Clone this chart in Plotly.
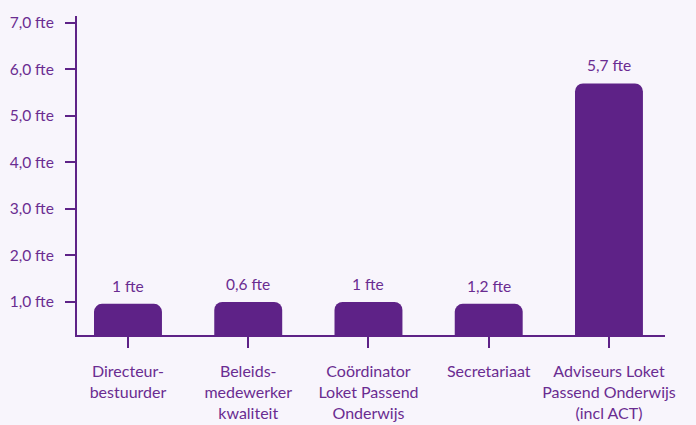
import plotly.graph_objects as go

categories = [
    "Directeur-<br>bestuurder",
    "Beleids-<br>medewerker<br>kwaliteit",
    "Coördinator<br>Loket Passend<br>Onderwijs",
    "Secretariaat",
    "Adviseurs Loket<br>Passend Onderwijs<br>(incl ACT)",
]
bar_heights = [0.96, 1.0, 1.0, 0.96, 5.7]
bar_labels = ["1 fte", "0,6 fte", "1 fte", "1,2 fte", "5,7 fte"]
y_tick_values = [1, 2, 3, 4, 5, 6, 7]
y_tick_labels = ["1,0 fte", "2,0 fte", "3,0 fte", "4,0 fte", "5,0 fte", "6,0 fte", "7,0 fte"]

BAR = "#5E2287"
TXT = "#6A2C91"
BG = "#F8F5FC"
FONT = "Lato"

fig = go.Figure(
    go.Bar(
        x=categories,
        y=bar_heights,
        marker=dict(color=BAR, line=dict(width=0)),
        width=0.565,
        cliponaxis=True,
        hoverinfo="skip",
    )
)

for cat, h, lab in zip(categories, bar_heights, bar_labels):
    fig.add_annotation(
        x=cat, y=h, text=lab, showarrow=False,
        yanchor="bottom", yshift=7,
        font=dict(family=FONT, size=15.5, color=TXT),
    )

fig.update_layout(
    width=696,
    height=425,
    paper_bgcolor=BG,
    plot_bgcolor=BG,
    margin=dict(l=77, r=31, t=16, b=90, autoexpand=False),
    barcornerradius=8,
    showlegend=False,
    font=dict(family=FONT, size=15, color=TXT),
)
fig.update_xaxes(
    type="category",
    range=[-0.424, 4.466],
    showline=True,
    linecolor=BAR,
    linewidth=2,
    ticks="outside",
    ticklen=11,
    tickwidth=2,
    tickcolor=BAR,
    showgrid=False,
    tickfont=dict(family=FONT, size=16, color=TXT),
    ticklabelstandoff=10,
    automargin=False,
)
fig.update_yaxes(
    range=[0.29, 7.15],
    tickvals=y_tick_values,
    ticktext=y_tick_labels,
    showline=True,
    linecolor=BAR,
    linewidth=2,
    ticks="outside",
    ticklen=10,
    tickwidth=2,
    tickcolor=BAR,
    showgrid=False,
    zeroline=False,
    tickfont=dict(family=FONT, size=15.5, color=TXT),
    ticklabelstandoff=8,
    automargin=False,
)

fig.write_html(
    "out.html",
    config={"displayModeBar": False},
    post_script="document.body.style.margin='0';document.body.style.background='#F8F5FC';",
)
